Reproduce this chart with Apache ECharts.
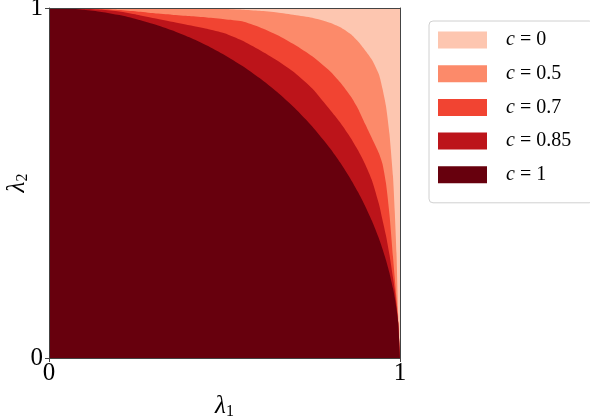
<!DOCTYPE html>
<html>
<head>
<meta charset="utf-8">
<script src="https://cdn.jsdelivr.net/npm/echarts@6/dist/echarts.min.js"></script>
<style>
  html, body { margin: 0; padding: 0; background: #fff; }
  #chart { width: 590px; height: 418px; }
</style>
</head>
<body>
<div id="chart"></div>
<script>
// λ1 sample points (shared by all boundaries)
const lambda1 = [0, 0.05, 0.1, 0.15, 0.2, 0.25, 0.3, 0.35, 0.4, 0.45, 0.5, 0.55, 0.6, 0.65, 0.7, 0.75, 0.8,
  0.83, 0.86, 0.88, 0.9, 0.92, 0.94, 0.95, 0.96, 0.97, 0.98, 0.985, 0.99, 0.995, 1]

// λ2 of each region's upper boundary
const lambda2C0 = [1, 1, 1, 1, 1, 1, 1, 1, 1, 1, 1, 1, 1, 1, 1, 1, 1,
  1, 1, 1, 1, 1, 1, 1, 1, 1, 1, 1, 1, 1, 1]
const lambda2C05 = [1, 1, 1, 1, 0.9995, 0.999, 0.999, 0.998, 0.998, 0.997, 0.997, 0.995, 0.992, 0.987, 0.98, 0.972, 0.958,
  0.945, 0.925, 0.905, 0.88, 0.852, 0.81, 0.77, 0.72, 0.64, 0.52, 0.42, 0.3, 0.12, 0]
const lambda2C07 = [1, 1, 0.999, 0.997, 0.994, 0.99, 0.985, 0.981, 0.977, 0.973, 0.968, 0.962, 0.945, 0.923, 0.895, 0.862, 0.82,
  0.787, 0.747, 0.713, 0.67, 0.628, 0.585, 0.555, 0.5, 0.41, 0.29, 0.23, 0.17, 0.1, 0]
const lambda2C085 = [1, 0.9995, 0.998, 0.995, 0.99, 0.981, 0.971, 0.961, 0.951, 0.941, 0.928, 0.907, 0.88, 0.85, 0.815, 0.77, 0.71,
  0.672, 0.628, 0.594, 0.555, 0.508, 0.44, 0.395, 0.35, 0.295, 0.23, 0.195, 0.15, 0.1, 0]
const lambda2C1 = [1, 0.9987, 0.995, 0.9887, 0.9798, 0.9682, 0.9539, 0.9367, 0.9165, 0.893, 0.866, 0.8352, 0.8, 0.7599, 0.7141, 0.6614, 0.6,
  0.5578, 0.5103, 0.475, 0.4359, 0.3919, 0.3412, 0.3122, 0.28, 0.2431, 0.199, 0.1726, 0.1411, 0.0999, 0]

const seriesNames = ['c = 0', 'c = 0.5', 'c = 0.7', 'c = 0.85', 'c = 1']
const seriesColors = ['#fdc6b0', '#fc8a6a', '#f14432', '#bc141a', '#67000d']
const seriesValues = [lambda2C0, lambda2C05, lambda2C07, lambda2C085, lambda2C1]

const serif = 'Liberation Serif'

const chart = echarts.init(document.getElementById('chart'))

const frameAxis = {
  min: 0,
  max: 1,
  interval: 1,
  z: 10,
  axisLine: { show: true, onZero: false, lineStyle: { color: '#444', width: 1 } },
  splitLine: { show: false },
}

const nameStyle = {
  fontFamily: serif,
  fontSize: 25,
  fontStyle: 'italic',
  color: '#000',
  rich: {
    sub: { fontFamily: serif, fontSize: 16, fontStyle: 'normal', verticalAlign: 'bottom', padding: [12, 0, 0, 0], color: '#000' },
  },
}

const option = {
  animation: false,
  grid: { left: 49, top: 8, width: 351, height: 350, outerBoundsMode: 'none', containLabel: false },
  legend: {
    orient: 'vertical',
    left: 429,
    top: 21,
    icon: 'rect',
    itemWidth: 49,
    itemHeight: 17,
    itemGap: 13.7,
    padding: [9, 22, 18, 9],
    borderColor: '#d0d0d0',
    borderWidth: 1,
    borderRadius: 4,
    backgroundColor: '#fff',
    selectedMode: false,
    data: seriesNames,
    formatter: (name) => '{it|c}{rm|' + name.slice(1) + '}',
    textStyle: {
      fontFamily: serif,
      fontSize: 20,
      lineHeight: 20,
      color: '#000',
      padding: [0, 0, 0, 14],
      rich: {
        it: { fontFamily: serif, fontSize: 20, lineHeight: 20, fontStyle: 'italic', color: '#000' },
        rm: { fontFamily: serif, fontSize: 20, lineHeight: 20, color: '#000' },
      },
    },
  },
  xAxis: [
    {
      ...frameAxis,
      type: 'value',
      position: 'bottom',
      name: 'λ{sub|1}',
      nameLocation: 'middle',
      nameGap: 34,
      nameMoveOverlap: false,
      nameTextStyle: nameStyle,
      axisTick: { show: true, length: 4, lineStyle: { color: '#444' } },
      axisLabel: { fontFamily: serif, fontSize: 25, color: '#000', margin: 3 },
    },
    {
      ...frameAxis,
      type: 'value',
      position: 'top',
      axisTick: { show: false },
      axisLabel: { show: false },
    },
  ],
  yAxis: [
    {
      ...frameAxis,
      type: 'value',
      position: 'left',
      name: 'λ{sub|2}',
      nameLocation: 'middle',
      nameGap: 18,
      nameMoveOverlap: false,
      nameRotate: 90,
      nameTextStyle: nameStyle,
      axisTick: { show: true, length: 4, lineStyle: { color: '#444' } },
      axisLabel: { fontFamily: serif, fontSize: 25, color: '#000', margin: 6 },
    },
    {
      ...frameAxis,
      type: 'value',
      position: 'right',
      axisTick: { show: false },
      axisLabel: { show: false },
    },
  ],
  series: seriesNames.map((name, k) => ({
    name,
    type: 'line',
    xAxisIndex: 0,
    yAxisIndex: 0,
    data: lambda1.map((x, i) => [x, seriesValues[k][i]]),
    color: seriesColors[k],
    itemStyle: { color: seriesColors[k] },
    symbol: 'none',
    smooth: 0.2,
    silent: true,
    lineStyle: { width: 0, opacity: 0 },
    areaStyle: { color: seriesColors[k], opacity: 1, origin: 'start' },
  })),
}

chart.setOption(option)
</script>
</body>
</html>
